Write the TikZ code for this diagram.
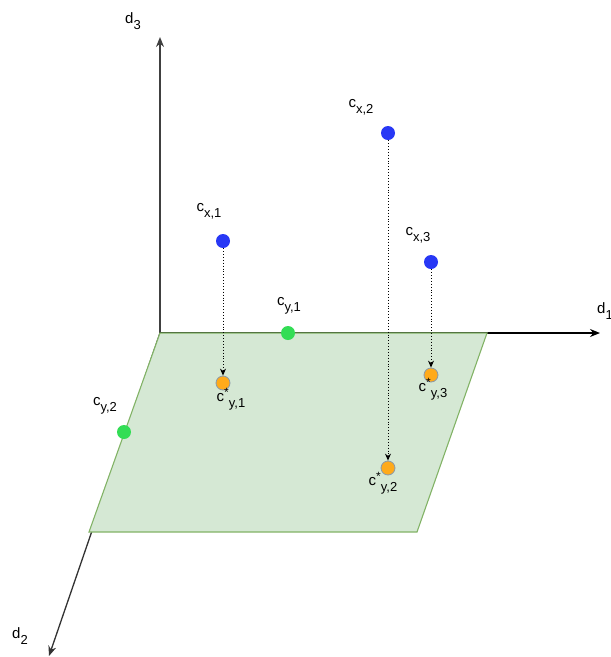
\documentclass[tikz,border=0pt]{standalone}
\usepackage{fontspec}
\setmainfont{Liberation Sans}
\usetikzlibrary{arrows.meta}
\definecolor{planefill}{HTML}{D5E8D4}
\definecolor{planeline}{HTML}{82B366}
\definecolor{bluedot}{HTML}{2838F5}
\definecolor{greendot}{HTML}{33DD55}
\definecolor{orangedot}{HTML}{FFAA1A}
\definecolor{orangeline}{HTML}{8A9AAA}
\newcommand{\sublbl}[2]{#1\raisebox{-0.4em}{\fontsize{13}{14}\selectfont #2}}
\newcommand{\starlbl}[2]{#1\raisebox{0.3em}{\fontsize{12}{13}\selectfont *}\raisebox{-0.4em}{\fontsize{13}{14}\selectfont #2}}
\tikzset{
  lbl/.style={inner sep=0pt, font=\fontsize{15}{17}\selectfont},
  dot/.style={circle, minimum size=14pt, inner sep=0pt},
  xdot/.style={dot, fill=bluedot},
  ydot/.style={dot, fill=greendot},
  sdot/.style={dot, fill=orangedot, draw=orangeline, line width=0.8pt},
  axis/.style={line width=1.3pt, -{Stealth[length=10pt,width=8pt]}},
  proj/.style={dotted, line width=0.9pt, -{Stealth[length=7pt,width=6pt]}},
}
\begin{document}
\begin{tikzpicture}[x=1pt,y=-1pt]
\useasboundingbox (0,0) rectangle (611,657);
% axes
\coordinate (O) at (160,333);
\coordinate (d3end) at (160,37);
\coordinate (d1end) at (600,333);
\coordinate (d2end) at (49,656);
\draw[axis, draw=black!75, fill=black!75] (O) -- (d3end);
\draw[axis, draw=black, fill=black] (O) -- (d1end);
\draw[axis, draw=black!80, fill=black!80] (O) -- (d2end);
% plane
\filldraw[fill=planefill, draw=planeline, line width=1.1pt]
  (160,333) -- (487,333) -- (417,532) -- (89,532) -- cycle;
% axis labels
\node[lbl] (ld3) at (133,21) {\sublbl{d}{3}};
\node[lbl, anchor=west] (ld1) at (597,311) {\sublbl{d}{1}};
\node[lbl] (ld2) at (20,636) {\sublbl{d}{2}};
% points
\node[xdot] (cx1) at (223,241) {};
\node[xdot] (cx2) at (388,133) {};
\node[xdot] (cx3) at (431,262) {};
\node[ydot] (cy1) at (288,333) {};
\node[ydot] (cy2) at (124,432) {};
\node[sdot] (cs1) at (223,383) {};
\node[sdot] (cs2) at (388,468) {};
\node[sdot] (cs3) at (431,375) {};
% labels
\node[lbl] (lcx1) at (209,211) {\sublbl{c}{x,1}};
\node[lbl] (lcx2) at (361,107) {\sublbl{c}{x,2}};
\node[lbl] (lcx3) at (418,235) {\sublbl{c}{x,3}};
\node[lbl] (lcy1) at (289,306) {\sublbl{c}{y,1}};
\node[lbl] (lcy2) at (105,406) {\sublbl{c}{y,2}};
\node[lbl] (lcs1) at (231,399) {\starlbl{c}{y,1}};
\node[lbl] (lcs2) at (383,483) {\starlbl{c}{y,2}};
\node[lbl] (lcs3) at (433,389) {\starlbl{c}{y,3}};
% projections
\draw[proj] (cx1) -- (cs1);
\draw[proj] (cx2) -- (cs2);
\draw[proj] (cx3) -- (cs3);
\end{tikzpicture}
\end{document}
